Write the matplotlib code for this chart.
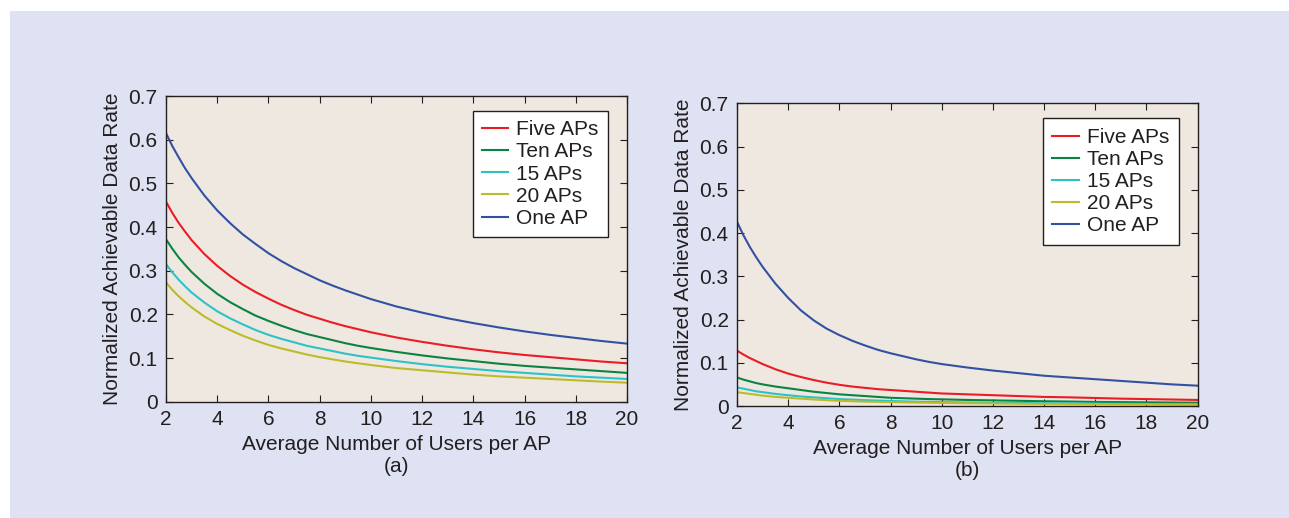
"""Normalized achievable data rate versus average users per AP, two panels."""
import matplotlib
matplotlib.use("Agg")
import matplotlib.pyplot as plt
from matplotlib.patches import Rectangle

plt.rcParams["font.family"] = ["Liberation Sans", "DejaVu Sans"]

# Average number of users per AP
users = [2, 2.25, 2.5, 2.75, 3, 3.5, 4, 4.5, 5, 5.5, 6, 6.5, 7, 7.5, 8, 8.5, 9, 9.5,
         10, 11, 12, 13, 14, 15, 16, 17, 18, 19, 20]

# Panel (a)
a_five = [0.458, 0.432, 0.409, 0.389, 0.370, 0.338, 0.311, 0.288, 0.268, 0.251,
          0.236, 0.222, 0.210, 0.199, 0.190, 0.181, 0.173, 0.166, 0.159,
          0.147, 0.137, 0.128, 0.120, 0.113, 0.107, 0.102, 0.097, 0.092, 0.088]
a_ten = [0.372, 0.350, 0.330, 0.313, 0.297, 0.270, 0.247, 0.228, 0.212, 0.197,
         0.185, 0.174, 0.164, 0.155, 0.148, 0.141, 0.134, 0.128, 0.123,
         0.114, 0.106, 0.099, 0.093, 0.087, 0.082, 0.078, 0.074, 0.070, 0.066]
a_15 = [0.315, 0.296, 0.279, 0.264, 0.250, 0.227, 0.207, 0.191, 0.177, 0.164,
        0.153, 0.144, 0.136, 0.128, 0.122, 0.116, 0.110, 0.105, 0.101,
        0.093, 0.086, 0.080, 0.075, 0.070, 0.066, 0.062, 0.058, 0.055, 0.052]
a_20 = [0.273, 0.256, 0.241, 0.228, 0.216, 0.195, 0.178, 0.164, 0.151, 0.140,
        0.130, 0.122, 0.115, 0.108, 0.102, 0.097, 0.092, 0.088, 0.084,
        0.077, 0.072, 0.067, 0.062, 0.058, 0.055, 0.052, 0.049, 0.046, 0.0435]
a_one = [0.615, 0.585, 0.559, 0.534, 0.512, 0.472, 0.438, 0.409, 0.383, 0.361,
         0.340, 0.322, 0.306, 0.292, 0.278, 0.266, 0.255, 0.245, 0.235,
         0.218, 0.204, 0.191, 0.180, 0.170, 0.161, 0.153, 0.146, 0.139, 0.133]

# Panel (b)
b_five = [0.128, 0.119, 0.111, 0.104, 0.097, 0.085, 0.075, 0.067, 0.060, 0.054,
          0.049, 0.045, 0.042, 0.039, 0.037, 0.035, 0.033, 0.031, 0.029,
          0.027, 0.025, 0.023, 0.021, 0.020, 0.0185, 0.017, 0.016, 0.015, 0.014]
b_ten = [0.066, 0.061, 0.057, 0.053, 0.050, 0.045, 0.041, 0.037, 0.033, 0.030,
         0.027, 0.025, 0.023, 0.021, 0.019, 0.018, 0.017, 0.016, 0.0154,
         0.014, 0.013, 0.012, 0.011, 0.0103, 0.0095, 0.009, 0.0085, 0.008, 0.0077]
b_15 = [0.043, 0.040, 0.037, 0.034, 0.032, 0.028, 0.025, 0.022, 0.020, 0.018,
        0.016, 0.0148, 0.0135, 0.0125, 0.0116, 0.0108, 0.010, 0.0095, 0.009,
        0.0082, 0.0075, 0.007, 0.0065, 0.006, 0.0055, 0.005, 0.0047, 0.0043, 0.004]
b_20 = [0.032, 0.030, 0.028, 0.026, 0.024, 0.021, 0.019, 0.017, 0.015, 0.0135,
        0.012, 0.011, 0.010, 0.0095, 0.009, 0.0085, 0.008, 0.0075, 0.007,
        0.0064, 0.0058, 0.0053, 0.0049, 0.0045, 0.0042, 0.0039, 0.0036, 0.0033, 0.003]
b_one = [0.426, 0.395, 0.368, 0.344, 0.322, 0.283, 0.250, 0.221, 0.198, 0.179,
         0.164, 0.151, 0.140, 0.130, 0.122, 0.115, 0.108, 0.102, 0.097,
         0.089, 0.082, 0.076, 0.070, 0.066, 0.062, 0.058, 0.054, 0.050, 0.047]

labels = ["Five APs", "Ten APs", "15 APs", "20 APs", "One AP"]
colors = ["#ec1c24", "#0a8442", "#2cc3c6", "#bcbb2c", "#3251a3"]
x_ticks = list(range(2, 21, 2))
y_ticks = [0, 0.1, 0.2, 0.3, 0.4, 0.5, 0.6, 0.7]
y_ticklabels = ["0", "0.1", "0.2", "0.3", "0.4", "0.5", "0.6", "0.7"]

FS = 15
INK = "#231f20"

W, H = 1289, 518
fig = plt.figure(figsize=(W / 100, H / 100), dpi=100, facecolor="white")
# lavender panel behind both plots
fig.add_artist(Rectangle((10 / W, 0), 1 - 10 / W, (H - 11) / H,
                         transform=fig.transFigure, facecolor="#dfe2f2",
                         edgecolor="none", zorder=-5))


def draw_panel(rect, series, tag, legend_anchor):
    ax = fig.add_axes(rect)
    ax.set_zorder(1)
    ax.set_facecolor("#efe8e1")
    for vals, lab, col in zip(series, labels, colors):
        ax.plot(users, vals, color=col, lw=1.5, label=lab)
    ax.set_xlim(2, 20)
    ax.set_ylim(0, 0.7)
    ax.set_xticks(x_ticks)
    ax.set_yticks(y_ticks)
    ax.set_yticklabels(y_ticklabels)
    ax.tick_params(direction="in", top=True, right=True, length=5, width=0.8,
                   labelsize=FS, colors=INK)
    ax.tick_params(axis="x", pad=6)
    ax.tick_params(axis="y", pad=6)
    for sp in ax.spines.values():
        sp.set_linewidth(1.0)
        sp.set_color(INK)
    ax.set_xlabel("Average Number of Users per AP\n(" + tag + ")", fontsize=FS,
                  color=INK, linespacing=1.2, labelpad=4)
    ax.set_ylabel("Normalized Achievable Data Rate", fontsize=FS,
                  color=INK, labelpad=5)
    leg = ax.legend(loc="upper right", bbox_to_anchor=legend_anchor,
                    borderaxespad=0, fancybox=False, framealpha=1,
                    edgecolor=INK, fontsize=FS, handlelength=1.25,
                    handletextpad=0.4, labelspacing=0.15, borderpad=0.45)
    leg.get_frame().set_linewidth(1.0)
    for t in leg.get_texts():
        t.set_color(INK)
    return ax


draw_panel([166 / W, 1 - 401.7 / H, 461 / W, 305.7 / H],
           [a_five, a_ten, a_15, a_20, a_one], "a", (0.959, 0.951))
draw_panel([737 / W, 1 - 406 / H, 460.5 / W, 302.7 / H],
           [b_five, b_ten, b_15, b_20, b_one], "b", (0.959, 0.950))

fig.savefig("out.png", dpi=100, facecolor=fig.get_facecolor())
